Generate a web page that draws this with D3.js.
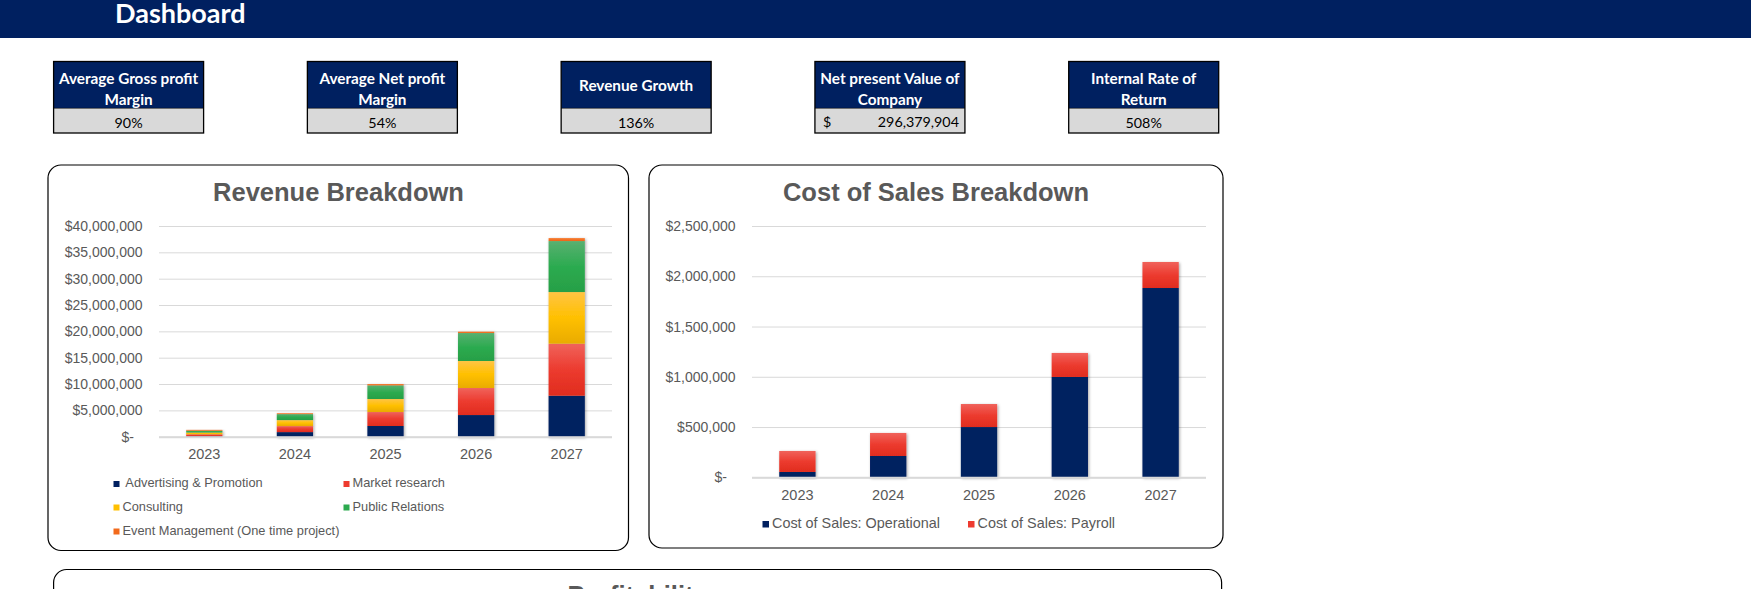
<!DOCTYPE html>
<html>
<head>
<meta charset="utf-8">
<script src="https://cdn.jsdelivr.net/npm/d3@7"></script>
<style>
  html, body { margin: 0; padding: 0; background: #fff; }
  svg { display: block; }
</style>
</head>
<body>
<svg id="chart" width="1751" height="589"></svg>
<script>
// ---------------- DATA ----------------
const years = ["2023", "2024", "2025", "2026", "2027"];

// Revenue breakdown (USD)
const revenueSeries = ["Advertising & Promotion", "Market research", "Consulting", "Public Relations", "Event Management (One time project)"];
const advertisingPromotion = [100000, 870000, 2030000, 4110000, 7780000];
const marketResearch       = [360000, 1140000, 2650000, 5130000, 9870000];
const consulting           = [330000, 1140000, 2470000, 5130000, 9810000];
const publicRelations      = [350000, 1140000, 2600000, 5310000, 9680000];
const eventManagement      = [160000, 170000, 250000, 260000, 570000];
const revenueTicks = [0, 5000000, 10000000, 15000000, 20000000, 25000000, 30000000, 35000000, 40000000];

// Cost of sales breakdown (USD)
const costSeries = ["Cost of Sales: Operational", "Cost of Sales: Payroll"];
const costOperational = [53000, 212000, 500000, 998000, 1883000];
const costPayroll     = [209000, 229000, 229000, 239000, 259000];
const costTicks = [0, 500000, 1000000, 1500000, 2000000, 2500000];

// KPI boxes
const kpiTitles = [["Average Gross profit", "Margin"], ["Average Net profit", "Margin"], ["Revenue Growth"], ["Net present Value of", "Company"], ["Internal Rate of", "Return"]];
const kpiValues = ["90%", "54%", "136%", "296,379,904", "508%"];

// ---------------- STYLE ----------------
const NAVY = "#002060";
const TXT = "#595959";
const GRID = "#d9d9d9";
const AX_FONT = "'Liberation Sans', Arial, sans-serif";
const CAL_FONT = "Lato, 'Open Sans', sans-serif";

const svg = d3.select("#chart");
const defs = svg.append("defs");

function grad(id, stops) {
  const g = defs.append("linearGradient").attr("id", id)
    .attr("x1", 0).attr("y1", 0).attr("x2", 0).attr("y2", 1);
  stops.forEach(s => g.append("stop").attr("offset", s[0]).attr("stop-color", s[1]));
}
grad("gRed",    [[0, "#f0625b"], [0.5, "#ec3b2f"], [1, "#e02c1e"]]);
grad("gYellow", [[0, "#ffc444"], [0.5, "#ffc000"], [1, "#e9ab00"]]);
grad("gGreen",  [[0, "#58b071"], [0.5, "#2cab50"], [1, "#279f46"]]);
grad("gOrange", [[0, "#f7813a"], [1, "#ee6314"]]);

const sh = defs.append("filter").attr("id", "shadow")
  .attr("x", "-30%").attr("y", "-10%").attr("width", "160%").attr("height", "120%");
sh.append("feDropShadow").attr("dx", 1).attr("dy", 1).attr("stdDeviation", 1.8)
  .attr("flood-color", "#000").attr("flood-opacity", 0.35);

const revFills = [NAVY, "url(#gRed)", "url(#gYellow)", "url(#gGreen)", "url(#gOrange)"];
const revLegendColors = [NAVY, "#ee3b2f", "#ffc000", "#2caa4f", "#f26a1c"];
const costFills = [NAVY, "url(#gRed)"];
const costLegendColors = [NAVY, "#ee3b2f"];

// ---------------- HEADER ----------------
svg.append("rect").attr("x", 0).attr("y", 0).attr("width", 1751).attr("height", 38).attr("fill", NAVY);
svg.append("text").attr("x", 115).attr("y", 23).attr("fill", "#fff")
  .attr("font-family", CAL_FONT).attr("font-weight", 700).attr("font-size", 27)
  .text("Dashboard");

// ---------------- KPI BOXES ----------------
const kpiX = d3.scalePoint().domain(d3.range(kpiTitles.length)).range([53.6, 1068.7]);
const kpiW = 150, kpiTop = 61.5, kpiMid = 108.3, kpiBot = 133;
kpiTitles.forEach((lines, i) => {
  const x = kpiX(i);
  const g = svg.append("g");
  g.append("rect").attr("x", x).attr("y", kpiTop).attr("width", kpiW).attr("height", kpiMid - kpiTop).attr("fill", NAVY);
  g.append("rect").attr("x", x).attr("y", kpiMid).attr("width", kpiW).attr("height", kpiBot - kpiMid).attr("fill", "#d9d9d9");
  g.append("rect").attr("x", x).attr("y", kpiTop).attr("width", kpiW).attr("height", kpiBot - kpiTop)
    .attr("fill", "none").attr("stroke", "#000").attr("stroke-width", 1.3);
  g.append("line").attr("x1", x).attr("x2", x + kpiW).attr("y1", kpiMid).attr("y2", kpiMid).attr("stroke", "#000").attr("stroke-width", 0.6);
  const ys = lines.length === 2 ? [80.5, 101] : [87];
  lines.forEach((t, j) => {
    g.append("text").attr("x", x + kpiW / 2).attr("y", ys[j]).attr("text-anchor", "middle")
      .attr("dominant-baseline", "middle").attr("fill", "#fff")
      .attr("font-family", CAL_FONT).attr("font-weight", 700).attr("font-size", 15.3).text(t);
  });
  if (i === 3) {
    g.append("text").attr("x", x + 8).attr("y", 123.5).attr("dominant-baseline", "middle")
      .attr("font-family", CAL_FONT).attr("font-size", 14.3).attr("fill", "#000").text("$");
    g.append("text").attr("x", x + kpiW - 6).attr("y", 123.5).attr("text-anchor", "end").attr("dominant-baseline", "middle")
      .attr("font-family", CAL_FONT).attr("font-size", 14.3).attr("fill", "#000").text(kpiValues[i]);
  } else {
    g.append("text").attr("x", x + kpiW / 2).attr("y", 124.5).attr("text-anchor", "middle").attr("dominant-baseline", "middle")
      .attr("font-family", CAL_FONT).attr("font-size", 14.3).attr("fill", "#000").text(kpiValues[i]);
  }
});

// ---------------- PANELS ----------------
function panel(x, y, w, h) {
  svg.append("rect").attr("x", x).attr("y", y).attr("width", w).attr("height", h)
    .attr("rx", 13).attr("ry", 13).attr("fill", "#fff").attr("stroke", "#000").attr("stroke-width", 1.2);
}
panel(48, 165, 580.5, 385.5);
panel(649, 165, 574, 383);
panel(53.6, 569.5, 1168, 120);

function title(txt, cx, y) {
  svg.append("text").attr("x", cx).attr("y", y).attr("text-anchor", "middle")
    .attr("font-family", AX_FONT).attr("font-weight", 700).attr("font-size", 25.5)
    .attr("fill", TXT).text(txt);
}
title("Revenue Breakdown", 338.5, 201);
title("Cost of Sales Breakdown", 936, 201);
title("Profitability", 637.6, 603.5);

function money(v) { return v === 0 ? "$-" : "$" + d3.format(",")(v); }

function stackedChart(opts) {
  const { x0, x1, y0, y1, max, ticks, rows, keys, fills, labelRight, yearY } = opts;
  const x = d3.scaleBand().domain(years).range([x0, x1]).paddingInner(0.6).paddingOuter(0.3);
  const y = d3.scaleLinear().domain([0, max]).range([y0, y1]);
  const g = svg.append("g");

  // gridlines + labels via axis
  const ax = g.append("g").attr("transform", `translate(${x0},0)`)
    .call(d3.axisLeft(y).tickValues(ticks).tickSize(-(x1 - x0)).tickFormat(money));
  ax.select(".domain").remove();
  ax.selectAll(".tick line").attr("stroke", GRID).attr("stroke-width", 1);
  ax.selectAll(".tick text")
    .attr("x", d => (labelRight - x0) - (d === 0 ? 8.5 : 0))
    .attr("fill", TXT).attr("font-family", AX_FONT).attr("font-size", 14);

  // bars
  const stack = d3.stack().keys(keys)(rows);
  const byYear = g.append("g").selectAll("g").data(years).join("g").attr("filter", "url(#shadow)");
  byYear.each(function (yr, yi) {
    d3.select(this).selectAll("rect").data(stack.map((s, si) => ({ s: s[yi], si })))
      .join("rect")
      .attr("x", x(yr)).attr("width", x.bandwidth())
      .attr("y", d => y(d.s[1])).attr("height", d => y(d.s[0]) - y(d.s[1]))
      .attr("fill", d => fills[d.si]);
  });

  // baseline
  g.append("line").attr("x1", x0).attr("x2", x1).attr("y1", y(0) + 0.5).attr("y2", y(0) + 0.5)
    .attr("stroke", GRID).attr("stroke-width", 2);

  // x labels
  const xa = g.append("g").attr("transform", `translate(0,${yearY})`)
    .call(d3.axisBottom(x).tickSize(0).tickPadding(0));
  xa.select(".domain").remove();
  xa.selectAll(".tick text").attr("dy", "0.35em").attr("y", 0)
    .attr("fill", TXT).attr("font-family", AX_FONT).attr("font-size", 14.5);
  return g;
}

const revRows = years.map((yr, i) => ({
  year: yr,
  [revenueSeries[0]]: advertisingPromotion[i],
  [revenueSeries[1]]: marketResearch[i],
  [revenueSeries[2]]: consulting[i],
  [revenueSeries[3]]: publicRelations[i],
  [revenueSeries[4]]: eventManagement[i]
}));
stackedChart({ x0: 159, x1: 612, y0: 436.7, y1: 226, max: 40000000, ticks: revenueTicks,
  rows: revRows, keys: revenueSeries, fills: revFills, labelRight: 142.5, yearY: 454 });

const costRows = years.map((yr, i) => ({
  year: yr,
  [costSeries[0]]: costOperational[i],
  [costSeries[1]]: costPayroll[i]
}));
stackedChart({ x0: 752, x1: 1206, y0: 477.3, y1: 226, max: 2500000, ticks: costTicks,
  rows: costRows, keys: costSeries, fills: costFills, labelRight: 735.5, yearY: 494.5 });

// ---------------- LEGENDS ----------------
const revLegPos = [[113.5, 484, " "], [343.5, 484, ""], [113.5, 507.5, ""], [343.5, 507.5, ""], [113.5, 531.5, ""]];
revenueSeries.forEach((name, i) => {
  const [lx, ly, pre] = revLegPos[i];
  svg.append("rect").attr("x", lx).attr("y", ly - 3).attr("width", 6).attr("height", 6).attr("fill", revLegendColors[i]);
  svg.append("text").attr("x", lx + 9).attr("y", ly).attr("dominant-baseline", "middle")
    .attr("xml:space", "preserve").style("white-space", "pre")
    .attr("font-family", AX_FONT).attr("font-size", 12.8).attr("fill", TXT).text(pre + name);
});
const costLegPos = [[762.5, 524.5], [968, 524.5]];
costSeries.forEach((name, i) => {
  const [lx, ly] = costLegPos[i];
  svg.append("rect").attr("x", lx).attr("y", ly - 3.5).attr("width", 6.5).attr("height", 6.5).attr("fill", costLegendColors[i]);
  svg.append("text").attr("x", lx + 9.5).attr("y", ly).attr("dominant-baseline", "middle")
    .attr("font-family", AX_FONT).attr("font-size", 14.4).attr("fill", TXT).text(name);
});
</script>
</body>
</html>
